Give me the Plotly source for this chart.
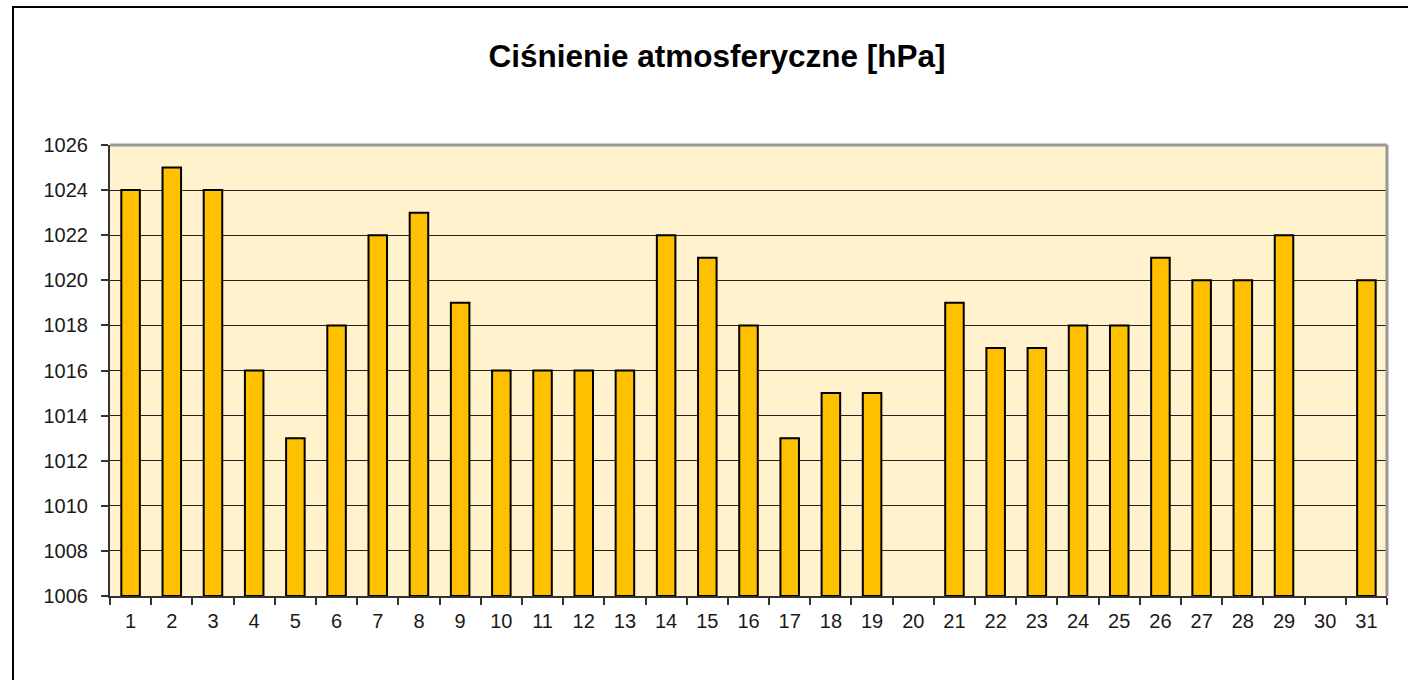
import plotly.graph_objects as go

# Daily atmospheric pressure for one month (days 20 and 30 missing)
days = [str(d) for d in range(1, 32)]
pressure = [1024, 1025, 1024, 1016, 1013, 1018, 1022, 1023, 1019, 1016,
            1016, 1016, 1016, 1022, 1021, 1018, 1013, 1015, 1015, None,
            1019, 1017, 1017, 1018, 1018, 1021, 1020, 1020, 1022, None,
            1020]
y_floor = 1006
y_ticks = list(range(1006, 1027, 2))

W, H = 1408, 680
L, R, T, B = 110, 1387, 145, 596

tick_font = dict(family="Liberation Sans, Arial", color="#1a1a1a", size=20)

# bars are drawn up from the axis floor
fig = go.Figure(go.Bar(
    x=days,
    y=[None if p is None else p - y_floor for p in pressure],
    base=y_floor,
    marker=dict(color="#FFC000", line=dict(color="#000000", width=2)),
    hovertext=[str(p) for p in pressure],
))

fig.update_layout(
    width=W, height=H,
    margin=dict(l=L, r=W - R, t=T, b=H - B, pad=0),
    paper_bgcolor="white",
    plot_bgcolor="#FFF2CC",
    bargap=0.55,
    showlegend=False,
    font=tick_font,
    title=dict(text="<b>Ciśnienie atmosferyczne [hPa]</b>",
               x=(487 + 947) / 2 / W, xanchor="center", xref="container",
               y=1 - 56 / H, yanchor="middle", yref="container",
               font=dict(family="Liberation Sans, Arial", size=31.5,
                         color="#000000")),
)

fig.update_xaxes(
    type="category", tickson="boundaries", ticks="outside", ticklen=7,
    tickcolor="#333333", tickwidth=2, showline=True, linecolor="#333333",
    linewidth=2, showgrid=False, ticklabelstandoff=6, tickfont=tick_font,
)
fig.update_yaxes(
    range=[1006, 1026], tickvals=y_ticks, ticks="outside", ticklen=7,
    tickcolor="#333333", tickwidth=2, showline=True, linecolor="#333333",
    linewidth=2, showgrid=True, gridcolor="#222222", gridwidth=1,
    ticklabelstandoff=9, zeroline=False, tickfont=tick_font,
)

# grey frame on the top and right of the plot area
fig.add_shape(type="line", xref="paper", yref="paper", x0=0, x1=1, y0=1, y1=1,
              line=dict(color="#999999", width=3), layer="above")
fig.add_shape(type="line", xref="paper", yref="paper", x0=1, x1=1, y0=0, y1=1,
              line=dict(color="#999999", width=3), layer="above")

# outer chart border
pw, ph = R - L, B - T
fig.add_shape(type="rect", xref="paper", yref="paper",
              x0=(13 - L) / pw, x1=(W + 10 - L) / pw,
              y0=(B - (H + 10)) / ph, y1=(B - 7) / ph,
              line=dict(color="#000000", width=2), layer="above")

fig.write_html("out.html")
